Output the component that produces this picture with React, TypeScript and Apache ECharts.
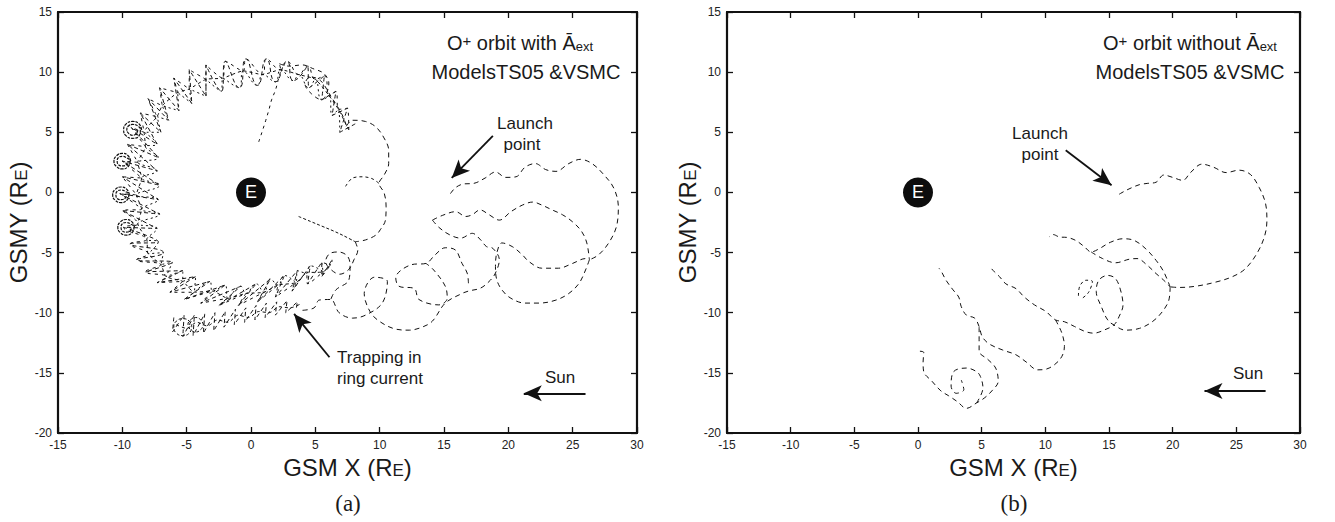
import React, { useEffect, useRef } from "react";
import * as echarts from "echarts";

// ---------- axis ticks ----------
const xTicks = { min: -15, max: 30, interval: 5 };
const yTicks = { min: -20, max: 15, interval: 5 };

// ---------- Earth marker ----------
const earth = [[0, 0]];

// ---------- panel (a): O+ orbit with A_ext ----------
const aLaunchArc = [[15.5,-0.1],[15.9,0.4],[16.5,0.7],[17.3,0.75],[18.2,1.2],[19.0,1.7],[19.8,1.25],[20.6,1.3],[21.3,2.1],[22.1,2.4],[22.9,1.9],[23.7,1.75],[24.7,2.4],[25.6,2.75],[26.5,2.4],[27.4,1.5],[28.2,0.35],[28.55,-1.2],[28.4,-2.85],[27.8,-4.2],[27.0,-5.2],[26.3,-5.6]];
const aRightLoop = [[26.3,-5.6],[26.0,-6.45],[25.5,-7.55],[24.7,-8.4],[23.7,-8.95],[22.4,-9.2],[21.3,-9.2],[20.2,-8.8],[19.5,-8.1],[19.1,-7.25],[19.0,-6.15],[19.1,-5.05],[19.5,-4.2],[20.3,-4.5],[21.1,-5.2],[21.6,-5.75],[22.6,-6.3],[23.9,-6.3],[25.0,-5.9],[26.0,-5.5],[26.3,-5.6]];
const aMiddle = [[14.1,-2.3],[14.9,-1.9],[15.9,-1.6],[16.7,-2.0],[17.2,-1.85],[17.8,-1.45],[18.5,-1.85],[19.3,-2.3],[20.2,-1.6],[21.1,-1.05],[21.9,-0.8],[22.6,-1.05],[23.4,-1.45],[24.2,-1.85],[25.0,-2.45],[25.7,-3.25],[26.1,-4.2],[26.3,-5.6]];
const aChain1 = [[14.1,-2.3],[14.6,-2.9],[15.4,-3.5],[16.3,-3.8],[17.2,-3.4],[17.85,-3.95],[18.3,-4.5],[18.8,-4.65],[19.3,-5.6],[19.0,-6.7],[18.6,-7.3],[17.85,-7.95],[16.9,-8.2],[16.4,-8.4],[15.1,-9.2],[14.1,-10.7],[13.3,-11.2],[12.3,-11.45],[11.2,-11.35],[10.1,-10.8],[9.3,-10.0],[8.8,-8.4],[9.6,-7.05],[10.6,-7.4],[10.2,-9.2],[8.9,-10.2],[7.9,-10.45],[6.85,-10.0],[6.2,-8.9],[5.3,-8.95],[4.9,-9.6],[4.0,-9.8]];
const aChain2 = [[16.9,-7.55],[16.8,-6.7],[16.4,-5.9],[15.9,-4.8],[15.1,-4.6],[14.3,-5.2],[13.6,-5.9],[12.5,-6.0],[11.25,-7.1],[11.5,-7.8],[12.7,-8.0],[13.05,-8.9],[14.6,-9.35],[15.25,-8.8],[15.1,-7.8],[14.2,-6.45],[13.6,-5.9]];
const aChain3 = [[8.1,-4.1],[8.3,-4.8],[8.0,-5.6],[7.6,-6.4],[6.9,-6.8],[6.2,-6.4],[5.8,-5.75],[6.1,-5.1],[6.8,-4.95],[7.5,-5.3],[7.7,-6.1],[7.6,-7.3],[6.6,-8.1],[6.2,-8.9]];
const aInner = [[7.4,5.5],[7.9,6.0],[8.9,5.9],[9.7,5.45],[10.3,4.6],[10.7,3.5],[10.7,2.4],[10.35,1.45],[9.95,0.75],[10.35,-0.05],[10.5,-1.2],[10.45,-2.3],[10.05,-3.1],[9.7,-3.55],[8.9,-3.95],[8.1,-4.1]];
const aCusp = [[7.35,0.5],[7.9,1.2],[8.65,1.3],[9.4,1.15],[9.95,0.75]];
const aDiag = [[3.7,-2.0],[4.6,-2.4],[5.5,-2.8],[6.4,-3.2],[7.2,-3.6],[8.1,-4.1]];
const aBranch = [[0.6,4.2],[0.85,5.0],[1.15,6.0],[1.4,6.9],[1.6,7.7],[1.9,8.5],[2.1,9.3],[2.3,10.2],[2.2,10.7]];
const aTopLoop = [[2.2,10.7],[2.95,10.5],[4.0,10.6],[4.8,10.3],[5.65,9.9],[6.05,9.1],[5.9,8.3],[5.5,7.7],[4.7,8.2],[4.2,9.0],[4.6,9.6],[5.4,9.3],[6.2,8.0],[6.8,7.0],[7.2,6.2],[7.4,5.5]];

// ring-current band: outer edge, inner edge and middle line, read along the band
const bandOuter = [[8.1,5.7],[7.5,7.0],[6.6,8.4],[5.7,9.7],[4.4,10.5],[2.8,10.9],[1.2,11.1],[-0.4,11.1],[-2.0,10.9],[-3.5,10.6],[-4.8,10.2],[-6.0,9.5],[-7.1,8.7],[-8.0,7.8],[-8.6,6.6],[-9.3,5.4],[-9.6,4.0],[-10.0,2.6],[-10.0,1.3],[-10.2,-0.1],[-10.0,-1.5],[-9.9,-2.9],[-9.4,-4.3],[-8.9,-5.6],[-8.2,-6.6],[-7.3,-7.5],[-6.3,-8.3],[-5.2,-8.9],[-3.9,-9.2],[-2.5,-9.4],[-1.0,-9.4],[0.5,-9.1],[1.9,-8.7],[3.2,-8.2],[4.4,-7.6],[5.5,-7.0]];
const bandInner = [[6.9,5.0],[6.3,6.4],[5.5,7.7],[4.5,8.7],[3.3,9.3],[1.9,9.2],[0.5,8.9],[-0.9,8.7],[-2.3,8.4],[-3.5,8.0],[-4.6,7.4],[-5.6,6.8],[-6.4,6.0],[-7.0,5.0],[-7.3,4.0],[-7.2,2.9],[-7.3,1.8],[-7.1,0.6],[-7.2,-0.6],[-7.1,-1.8],[-7.3,-3.0],[-7.2,-4.1],[-6.8,-5.0],[-6.1,-5.8],[-5.3,-6.5],[-4.3,-7.0],[-3.2,-7.4],[-2.0,-7.7],[-0.8,-7.8],[0.4,-7.6],[1.5,-7.2],[2.6,-6.9],[3.6,-6.5],[4.6,-6.1],[5.5,-5.8],[6.3,-5.6]];
const bandMid = [[7.6,5.2],[6.8,6.9],[6.1,8.0],[5.0,9.4],[3.7,9.8],[2.3,10.2],[0.9,9.8],[-0.6,10.1],[-2.2,9.5],[-3.5,9.4],[-4.8,8.6],[-5.7,8.3],[-6.9,7.2],[-7.3,6.3],[-8.3,5.0],[-8.2,3.8],[-8.8,2.5],[-8.5,1.2],[-8.9,-0.2],[-8.5,-1.4],[-8.8,-2.6],[-8.1,-3.9],[-8.0,-5.1],[-7.0,-6.0],[-6.6,-7.0],[-5.3,-7.4],[-4.4,-8.3],[-3.0,-8.2],[-1.8,-8.8],[-0.4,-8.4],[1.0,-8.3],[2.1,-7.7],[3.5,-7.5],[4.3,-6.7],[5.6,-6.6],[6.2,-6.0]];

// tight gyration loops on the flank
const loop1 = [[-8.5,5.2],[-8.7,5.7],[-9.2,5.9],[-9.7,5.7],[-9.9,5.2],[-9.7,4.7],[-9.2,4.5],[-8.7,4.7],[-8.6,5.2],[-8.75,5.5],[-9.2,5.65],[-9.55,5.5],[-9.65,5.2],[-9.5,4.9],[-9.2,4.75],[-8.9,4.9],[-8.8,5.2]];
const loop2 = [[-9.35,2.6],[-9.55,3.05],[-10.0,3.25],[-10.45,3.05],[-10.65,2.6],[-10.45,2.15],[-10.0,1.95],[-9.55,2.15],[-9.4,2.6],[-9.7,2.9],[-10.0,3.0],[-10.3,2.9],[-10.4,2.6],[-10.3,2.3],[-10.0,2.2],[-9.7,2.3],[-9.6,2.6]];
const loop3 = [[-9.45,-0.2],[-9.65,0.25],[-10.1,0.45],[-10.55,0.25],[-10.75,-0.2],[-10.55,-0.65],[-10.1,-0.85],[-9.65,-0.65],[-9.5,-0.2],[-9.8,0.1],[-10.1,0.2],[-10.4,0.1],[-10.5,-0.2],[-10.4,-0.5],[-10.1,-0.6],[-9.8,-0.5],[-9.7,-0.2]];
const loop4 = [[-9.05,-2.9],[-9.25,-2.45],[-9.7,-2.25],[-10.15,-2.45],[-10.35,-2.9],[-10.15,-3.35],[-9.7,-3.55],[-9.25,-3.35],[-9.1,-2.9],[-9.4,-2.6],[-9.7,-2.5],[-10.0,-2.6],[-10.1,-2.9],[-10.0,-3.2],[-9.7,-3.3],[-9.4,-3.2],[-9.3,-2.9]];

// lower arm of the ring current
const armTop = [[-6.0,-10.4],[-5.2,-10.2],[-4.4,-10.2],[-3.6,-10.1],[-2.8,-10.0],[-2.0,-9.9],[-1.2,-9.7],[-0.4,-9.6],[0.4,-9.4],[1.2,-9.2],[2.0,-9.1],[2.8,-9.0],[3.6,-9.1]];
const armBottom = [[-6.1,-11.6],[-5.3,-12.0],[-4.5,-11.9],[-3.7,-11.7],[-2.9,-11.5],[-2.1,-11.2],[-1.3,-11.0],[-0.5,-10.8],[0.3,-10.6],[1.1,-10.4],[1.9,-10.2],[2.7,-10.0],[3.5,-9.8]];
const armMid = [[-5.8,-11.0],[-5.0,-11.3],[-4.2,-10.8],[-3.4,-11.1],[-2.6,-10.6],[-1.8,-10.8],[-1.0,-10.2],[-0.2,-10.4],[0.6,-9.9],[1.4,-10.0],[2.2,-9.5],[3.0,-9.6],[3.8,-9.3]];
const armLoop1 = [[-4.6,-11.2],[-4.8,-10.7],[-5.3,-10.5],[-5.8,-10.7],[-6.0,-11.2],[-5.8,-11.7],[-5.3,-11.9],[-4.8,-11.7],[-4.6,-11.2]];
const armLoop2 = [[-3.7,-11.0],[-3.9,-10.6],[-4.3,-10.4],[-4.7,-10.6],[-4.9,-11.0],[-4.7,-11.4],[-4.3,-11.6],[-3.9,-11.4],[-3.7,-11.0]];

// ---------- panel (b): O+ orbit without A_ext ----------
const bLaunchArc = [[15.8,-0.15],[16.3,0.15],[16.8,0.4],[17.4,0.65],[18.0,0.75],[18.7,0.85],[19.3,1.45],[20.0,1.25],[20.8,1.0],[21.4,1.65],[22.3,2.35],[23.2,2.1],[24.2,1.65],[25.2,1.85],[26.1,1.5],[26.8,0.4],[27.3,-0.95],[27.4,-2.35],[27.2,-3.7],[26.6,-5.1],[25.7,-6.35],[24.7,-7.0],[23.4,-7.45],[21.8,-7.8],[20.5,-7.9],[19.8,-7.85]];
const bLower = [[19.8,-7.85],[19.7,-8.95],[19.2,-9.9],[18.4,-10.75],[17.4,-11.3],[16.3,-11.45],[15.5,-11.1],[14.9,-10.6],[14.4,-9.5],[14.0,-8.25],[14.2,-7.3],[14.9,-6.9],[15.5,-7.15],[15.9,-8.1],[16.1,-9.35],[15.8,-10.3],[15.4,-11.0],[14.6,-11.45],[13.8,-11.7],[13.1,-11.55],[12.3,-11.15],[11.5,-10.75],[10.8,-10.6],[10.05,-9.9],[9.15,-9.35],[8.35,-8.7],[7.7,-8.0],[6.9,-7.6],[6.4,-7.0],[6.0,-6.6],[5.7,-6.25]];
const bUpper = [[19.8,-7.85],[19.3,-6.6],[18.7,-5.65],[17.9,-4.7],[17.0,-4.0],[16.1,-3.85],[15.1,-4.15],[14.2,-4.7],[13.6,-4.95],[13.05,-4.5],[12.4,-4.0],[11.75,-3.75],[11.1,-3.7],[10.6,-3.5],[10.3,-3.7]];
const bMiddle = [[13.6,-4.95],[14.5,-5.5],[15.5,-5.85],[16.6,-5.55],[17.2,-5.5],[18.0,-6.05],[18.7,-6.75],[19.3,-7.3],[19.8,-7.85]];
const bDown = [[10.8,-10.6],[11.3,-11.7],[11.5,-12.8],[11.2,-13.8],[10.3,-14.6],[9.4,-14.75],[8.5,-14.1],[7.7,-13.5],[6.65,-13.1],[5.6,-12.6],[5.05,-12.0],[4.8,-11.15],[4.45,-10.45],[3.8,-10.2],[3.4,-9.5],[3.2,-8.7],[2.75,-8.1],[2.2,-7.3],[1.85,-6.6],[1.65,-6.3]];
const bLoopOuter = [[4.8,-11.2],[4.8,-12.2],[4.8,-13.2],[5.5,-13.9],[6.1,-14.6],[6.3,-15.7],[5.8,-16.5],[5.2,-17.1],[4.6,-17.5],[3.8,-17.95],[3.1,-17.4],[2.4,-16.9],[1.8,-16.5],[1.1,-15.7],[0.45,-14.9],[0.4,-14.1],[0.45,-13.3],[0.1,-13.2]];
const bLoopInner = [[4.6,-17.5],[5.1,-16.25],[4.9,-15.3],[4.6,-14.9],[3.8,-14.6],[2.8,-14.9],[2.6,-16.1],[3.0,-16.7],[3.6,-16.4],[3.4,-15.6]];
const bCluster = [[12.6,-8.6],[12.7,-7.8],[13.2,-7.3],[13.7,-7.4],[13.4,-8.3],[12.9,-8.8]];

// ---------- annotation arrows (tail -> head, data coords) ----------
const aArrows = [
  [[18.8, 4.7], [15.6, 1.2]],
  [[6.1, -13.7], [3.35, -10.1]],
  [[26.0, -16.7], [21.2, -16.7]],
];
const bArrows = [
  [[11.6, 3.5], [15.2, 0.6]],
  [[27.3, -16.5], [22.5, -16.5]],
];

const FONT = "'Liberation Sans', Arial, Helvetica, sans-serif";
const SERIF = "'Liberation Serif', 'Times New Roman', serif";
const INK = "#111";

const zigzag = (a: number[][], b: number[][]) =>
  a.flatMap((p, i) => (b[i] ? [p, b[i]] : [p]));

function dashed(data: number[][], panel: number, opts: any = {}) {
  return {
    type: "line",
    data,
    xAxisIndex: panel * 2,
    yAxisIndex: panel * 2,
    symbol: "none",
    showSymbol: false,
    smooth: opts.smooth ?? 0.35,
    silent: true,
    z: 2,
    lineStyle: { color: INK, width: opts.width ?? 1, type: opts.dash ?? [5, 4] },
  };
}

function axes(grid: number) {
  const line = { show: true, onZero: false, lineStyle: { color: INK, width: 2.2 } };
  const tick = { show: true, inside: true, length: 6, lineStyle: { color: INK, width: 1.3 } };
  const nameRich = {
    a: { fontSize: 24, fontFamily: FONT, color: "#1a1a1a" },
    b: { fontSize: 17, fontFamily: FONT, color: "#1a1a1a", verticalAlign: "bottom", padding: [0, 0, 1, 0] },
  };
  const x = [
    {
      gridIndex: grid, type: "value", ...xTicks, position: "bottom",
      axisLine: line, axisTick: tick, splitLine: { show: false },
      axisLabel: { fontSize: 12, color: "#222", fontFamily: FONT, margin: 6 },
      name: "{a|GSM X (R}{b|E}{a|)}", nameLocation: "middle", nameGap: 22,
      nameTextStyle: { rich: nameRich },
    },
    {
      gridIndex: grid, type: "value", ...xTicks, position: "top",
      axisLine: line, axisTick: tick, splitLine: { show: false }, axisLabel: { show: false },
    },
  ];
  const y = [
    {
      gridIndex: grid, type: "value", ...yTicks, position: "left",
      axisLine: line, axisTick: tick, splitLine: { show: false },
      axisLabel: { fontSize: 12, color: "#222", fontFamily: FONT, margin: 6 },
      name: "{a|GSMY (R}{b|E}{a|)}", nameLocation: "middle", nameGap: 26,
      nameTextStyle: { rich: nameRich },
    },
    {
      gridIndex: grid, type: "value", ...yTicks, position: "right",
      axisLine: line, axisTick: tick, splitLine: { show: false }, axisLabel: { show: false },
    },
  ];
  return { x, y };
}

function earthSeries(panel: number, arrows: number[][][]) {
  return {
    type: "scatter",
    data: earth,
    xAxisIndex: panel * 2,
    yAxisIndex: panel * 2,
    symbol: "circle",
    symbolSize: 30,
    silent: true,
    z: 5,
    itemStyle: { color: "#0d0d0d", opacity: 1 },
    label: {
      show: true, position: "inside", formatter: "E",
      color: "#fff", fontSize: 18, fontFamily: FONT,
    },
    markLine: {
      silent: true,
      animation: false,
      symbol: ["none", "arrow"],
      symbolSize: [12, 18],
      label: { show: false },
      lineStyle: { color: "#111", width: 1.8, type: "solid", opacity: 1 },
      data: arrows.map(([s, e]) => [{ coord: s }, { coord: e }]),
    },
  };
}

function text(x: number, y: number, t: string, align = "center", extra: any = {}) {
  return {
    type: "text", x, y, silent: true,
    style: {
      text: t, align, verticalAlign: "middle",
      fontSize: 17, fontFamily: FONT, fill: "#1a1a1a", ...extra,
    },
  };
}

const titleRich = {
  a: { fontSize: 20, fontFamily: FONT, fill: "#1a1a1a" },
  s: { fontSize: 15, fontFamily: FONT, fill: "#1a1a1a", verticalAlign: "top" },
  e: { fontSize: 13, fontFamily: FONT, fill: "#1a1a1a", verticalAlign: "bottom" },
};

export default function App() {
  const ref = useRef<HTMLDivElement>(null);
  useEffect(() => {
    document.body.style.margin = "0";
    const chart = echarts.init(ref.current!, null, { renderer: "svg" });
    const A = axes(0);
    const B = axes(1);
    chart.setOption({
      animation: false,
      backgroundColor: "#fff",
      grid: [
        { left: 58, top: 12, width: 579, height: 421 },
        { left: 727, top: 12, width: 573, height: 421 },
      ],
      xAxis: [...A.x, ...B.x],
      yAxis: [...A.y, ...B.y],
      series: [
        dashed(aLaunchArc, 0),
        dashed(aRightLoop, 0),
        dashed(aMiddle, 0),
        dashed(aChain1, 0),
        dashed(aChain2, 0),
        dashed(aChain3, 0),
        dashed(aInner, 0),
        dashed(aCusp, 0, { dash: [3, 3] }),
        dashed(aDiag, 0, { dash: [3, 2] }),
        dashed(aBranch, 0, { dash: [3, 4] }),
        dashed(aTopLoop, 0, { dash: [4, 4] }),
        dashed(zigzag(bandOuter, bandInner), 0, { dash: [4, 3], smooth: 0.6 }),
        dashed(zigzag(bandMid, bandOuter.slice(1)), 0, { dash: [3, 4], smooth: 0.5 }),
        dashed(zigzag(bandInner, bandMid.slice(1)), 0, { dash: [2, 3], smooth: 0.5 }),
        dashed(bandMid, 0, { dash: [3, 3], smooth: 0.2 }),
        dashed(loop1, 0, { dash: [3, 1], smooth: 0.5, width: 1.2 }),
        dashed(loop2, 0, { dash: [3, 1], smooth: 0.5, width: 1.2 }),
        dashed(loop3, 0, { dash: [3, 1], smooth: 0.5, width: 1.2 }),
        dashed(loop4, 0, { dash: [3, 1], smooth: 0.5, width: 1.2 }),
        dashed(zigzag(armTop, armBottom), 0, { dash: [4, 3], smooth: 0.5 }),
        dashed(armMid, 0, { dash: [3, 3], smooth: 0.3 }),
        dashed(armLoop1, 0, { dash: [3, 2], smooth: 0.5 }),
        dashed(armLoop2, 0, { dash: [3, 2], smooth: 0.5 }),
        earthSeries(0, aArrows),

        dashed(bLaunchArc, 1),
        dashed(bLower, 1),
        dashed(bUpper, 1),
        dashed(bMiddle, 1),
        dashed(bDown, 1),
        dashed(bLoopOuter, 1),
        dashed(bLoopInner, 1),
        dashed(bCluster, 1, { dash: [3, 3] }),
        earthSeries(1, bArrows),
      ],
      graphic: [
        { type: "text", x: 520, y: 43, silent: true,
          style: { text: "{a|O}{s|+}{a| orbit with Ā}{e|ext}", rich: titleRich, align: "center", verticalAlign: "middle" } },
        text(526, 72, "ModelsTS05 &VSMC", "center", { fontSize: 20 }),
        text(525, 123, "Launch"),
        text(522, 144, "point"),
        text(337, 357, "Trapping in", "left"),
        text(337, 378, "ring current", "left"),
        text(560, 377, "Sun"),
        { type: "text", x: 1190, y: 43, silent: true,
          style: { text: "{a|O}{s|+}{a| orbit without Ā}{e|ext}", rich: titleRich, align: "center", verticalAlign: "middle" } },
        text(1190, 72, "ModelsTS05 &VSMC", "center", { fontSize: 20 }),
        text(1040, 133, "Launch"),
        text(1040, 154, "point"),
        text(1248, 373, "Sun"),
        text(348, 503, "(a)", "center", { fontSize: 23, fontFamily: SERIF }),
        text(1014, 503, "(b)", "center", { fontSize: 23, fontFamily: SERIF }),
      ],
    });
    return () => chart.dispose();
  }, []);
  return <div ref={ref} style={{ width: 1335, height: 522 }} />;
}
